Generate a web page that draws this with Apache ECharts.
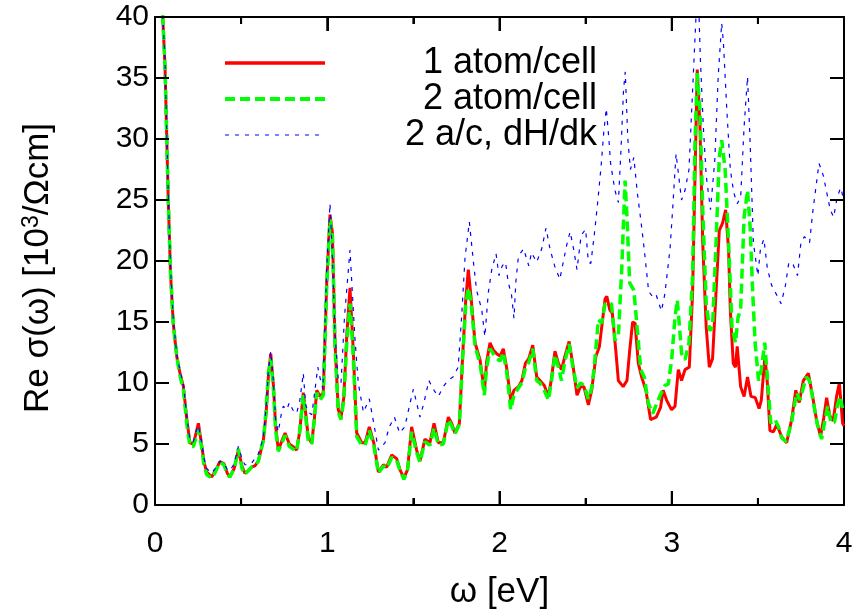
<!DOCTYPE html>
<html><head><meta charset="utf-8">
<script src="https://cdn.jsdelivr.net/npm/echarts@6/dist/echarts.min.js"></script>
<style>html,body{margin:0;padding:0;background:#fff}#c{width:859px;height:616px}</style>
</head><body><div id="c"></div>
<script>
const xTicks = [0, 1, 2, 3, 4];
const xMinorTicks = [0.5, 1.5, 2.5, 3.5];
const yTicks = [0, 5, 10, 15, 20, 25, 30, 35, 40];
const seriesNames = ['1 atom/cell', '2 atom/cell', '2 a/c, dH/dk'];

const omegaRed = [0.03,0.045,0.058,0.077,0.09,0.106,0.126,0.145,0.165,0.185,0.203,0.223,0.24,0.252,0.27,0.285,0.30,0.329,0.35,0.377,0.40,0.42,0.435,0.46,0.484,0.505,0.522,0.54,0.56,0.58,0.60,0.629,0.645,0.658,0.672,0.688,0.70,0.716,0.735,0.755,0.78,0.80,0.822,0.84,0.861,0.875,0.89,0.91,0.925,0.939,0.958,0.977,0.997,1.016,1.03,1.045,1.064,1.08,1.096,1.113,1.132,1.151,1.171,1.20,1.22,1.244,1.27,1.297,1.326,1.345,1.374,1.403,1.422,1.445,1.466,1.49,1.519,1.538,1.567,1.596,1.62,1.645,1.674,1.703,1.722,1.741,1.767,1.786,1.804,1.819,1.835,1.858,1.887,1.912,1.925,1.945,1.964,1.984,2.003,2.022,2.041,2.065,2.084,2.11,2.13,2.15,2.17,2.193,2.216,2.235,2.26,2.284,2.30,2.322,2.342,2.36,2.38,2.404,2.425,2.45,2.47,2.49,2.516,2.535,2.56,2.58,2.613,2.623,2.64,2.655,2.675,2.69,2.718,2.74,2.756,2.773,2.787,2.806,2.825,2.85,2.877,2.91,2.935,2.95,2.97,2.999,3.019,3.038,3.057,3.077,3.102,3.121,3.135,3.148,3.164,3.18,3.2,3.218,3.237,3.257,3.276,3.295,3.313,3.33,3.34,3.357,3.37,3.38,3.4,3.42,3.44,3.46,3.485,3.507,3.52,3.541,3.555,3.57,3.59,3.61,3.638,3.667,3.696,3.72,3.74,3.764,3.793,3.818,3.84,3.864,3.883,3.899,3.918,3.937,3.957,3.973,3.992,4.0];
const sigmaRed = [50,40,36,25,19,14.9,12.2,10.8,9.7,7,5.1,5.0,6.0,6.7,5.0,3.5,2.7,2.3,2.8,3.55,3.4,2.6,2.3,3.0,4.5,3.2,2.6,2.8,3.1,3.2,3.6,5.3,7.5,10.5,12.4,9.7,6.5,4.5,5.2,5.9,5.0,4.8,4.5,6.0,9.2,7.5,5.5,5.1,7.0,9.4,8.9,9.2,18.2,23.8,22.3,13.3,7.8,7.2,8.8,13.8,17.8,12.7,5.9,5.1,5.1,6.4,5.1,2.7,3.3,3.1,4.1,3.8,2.9,2.2,2.9,6.4,4.5,3.6,5.4,5.1,6.7,5.1,5.1,7.2,6.7,5.9,6.7,12.2,16.8,19.3,17.0,13.3,11.9,9.3,11.7,13.3,12.7,12.4,12.2,12.8,11.3,8.6,9.4,9.7,10.2,11.6,12.0,13.1,10.5,10.2,9.8,8.9,10.2,12.6,11.6,11.1,12.2,13.4,11.6,9.0,9.7,9.7,8.2,9.4,12.2,13.0,16.9,17.1,16.0,15.7,12.7,10.2,9.7,10.2,12.7,15.0,14.9,11.6,10.5,9.4,7.0,7.2,8.0,9.4,8.6,7.8,8.1,11.1,10.2,11.1,11.3,17.4,26.9,35.7,31,21.5,14.6,11.3,12,17.4,22.5,23.1,24.2,20.9,16,11.6,11.3,13.0,9.7,8.9,10.5,8.9,8.8,7.9,8.6,12.2,10,6.1,6.0,6.6,5.6,5.1,7.0,9.4,8.4,10.2,10.8,8.9,7.0,5.6,7.2,8.8,7.3,6.9,8.9,10.0,6.7,6.5];

const omegaGreen = [0.03,0.045,0.058,0.077,0.09,0.106,0.126,0.145,0.165,0.185,0.203,0.223,0.24,0.252,0.27,0.285,0.30,0.329,0.35,0.377,0.40,0.42,0.435,0.46,0.484,0.505,0.522,0.54,0.56,0.58,0.60,0.629,0.645,0.658,0.672,0.688,0.70,0.716,0.735,0.755,0.78,0.80,0.822,0.84,0.861,0.875,0.89,0.91,0.925,0.939,0.958,0.977,0.997,1.016,1.03,1.045,1.064,1.08,1.096,1.113,1.132,1.151,1.171,1.20,1.22,1.244,1.27,1.297,1.326,1.345,1.374,1.403,1.422,1.445,1.466,1.49,1.519,1.538,1.567,1.596,1.62,1.645,1.674,1.703,1.722,1.741,1.767,1.786,1.804,1.819,1.835,1.858,1.887,1.912,1.925,1.945,1.964,1.984,2.003,2.022,2.041,2.065,2.084,2.11,2.13,2.15,2.17,2.193,2.216,2.235,2.26,2.284,2.30,2.322,2.342,2.36,2.38,2.404,2.425,2.45,2.47,2.49,2.516,2.535,2.55,2.574,2.593,2.613,2.65,2.67,2.69,2.71,2.729,2.74,2.756,2.78,2.80,2.82,2.84,2.865,2.89,2.93,2.96,2.98,3.0,3.019,3.032,3.045,3.057,3.077,3.1,3.121,3.135,3.148,3.164,3.18,3.2,3.22,3.237,3.257,3.276,3.29,3.31,3.33,3.35,3.37,3.385,3.4,3.42,3.44,3.455,3.47,3.484,3.504,3.52,3.54,3.555,3.575,3.6,3.62,3.638,3.665,3.696,3.725,3.745,3.78,3.80,3.82,3.845,3.87,3.89,3.905,3.925,3.945,3.962,3.977,3.99,4.0];
const sigmaGreen = [50,40,36,25,19,14.9,12.2,10.6,9.4,6.6,4.8,4.8,5.6,6.2,4.8,3.2,2.5,2.2,2.7,3.5,3.3,2.5,2.3,3.0,4.6,3.0,2.5,2.8,3.1,3.2,3.6,5.3,7.8,10.8,12.0,9.4,6.2,4.4,5.0,5.7,4.8,4.6,4.4,6.0,9.0,7.2,5.2,5.0,7.0,9.2,8.6,9.0,18.0,23.4,22.0,13.0,7.6,7.0,8.6,13.2,16.5,12.2,5.6,4.9,4.9,6.1,4.9,2.6,3.2,3.0,3.9,3.7,2.8,2.1,2.8,6.0,4.3,3.5,5.2,4.9,6.3,4.9,5.0,7.0,6.5,5.8,6.6,12.0,16.4,17.8,16.6,13.0,11.6,9.0,11.2,12.8,12.4,12.0,11.8,12.5,11.0,7.8,9.0,9.6,10.0,11.2,11.7,12.8,10.2,10.0,9.4,8.6,10.0,12.3,11.3,10.2,11.8,13.2,11.4,9.6,10.0,9.8,8.7,9.6,11.3,15.2,14.9,16.5,16.5,13.5,13.8,19.5,26.6,23.6,18.2,17.6,14.4,11.1,10.5,8.3,7.5,8.9,9.8,9.9,12,15.4,16.8,14.6,12.4,11.9,13.3,18.8,29.7,35.4,32.3,24.2,16.5,14.3,14.6,21.5,28.5,29.9,27.5,21.5,14.6,13.3,15.4,16,23.6,25.8,22.8,17.4,13.3,10.2,11.1,13.3,10.5,6.7,7.0,6.4,5.5,5.2,6.8,9.2,8.6,10.5,10.2,8.6,6.6,5.4,7.0,8.1,6.7,6.8,8.2,8.9,8.0,8.4];

const omegaBlue = [0.03,0.045,0.058,0.077,0.09,0.106,0.126,0.145,0.165,0.185,0.203,0.223,0.24,0.252,0.27,0.285,0.30,0.329,0.35,0.377,0.40,0.42,0.435,0.46,0.484,0.505,0.522,0.54,0.56,0.58,0.60,0.629,0.645,0.658,0.672,0.688,0.70,0.716,0.735,0.745,0.765,0.78,0.80,0.822,0.84,0.861,0.875,0.89,0.91,0.925,0.945,0.96,0.975,0.997,1.016,1.03,1.045,1.064,1.08,1.10,1.132,1.16,1.18,1.21,1.244,1.27,1.297,1.335,1.36,1.39,1.42,1.45,1.48,1.50,1.52,1.538,1.56,1.59,1.62,1.645,1.674,1.70,1.73,1.76,1.78,1.80,1.825,1.848,1.867,1.897,1.915,1.935,1.955,1.98,1.997,2.016,2.035,2.05,2.07,2.084,2.095,2.11,2.14,2.17,2.186,2.216,2.245,2.27,2.293,2.32,2.35,2.39,2.41,2.43,2.45,2.474,2.50,2.516,2.53,2.55,2.57,2.59,2.605,2.62,2.635,2.645,2.67,2.69,2.705,2.72,2.73,2.745,2.76,2.78,2.80,2.82,2.84,2.866,2.893,2.91,2.94,2.96,2.99,3.005,3.025,3.04,3.057,3.077,3.1,3.125,3.14,3.152,3.166,3.183,3.2,3.225,3.25,3.27,3.29,3.30,3.32,3.34,3.36,3.38,3.40,3.42,3.44,3.455,3.474,3.50,3.515,3.535,3.555,3.58,3.61,3.635,3.66,3.68,3.705,3.73,3.75,3.77,3.80,3.82,3.855,3.88,3.90,3.92,3.94,3.96,3.98,4.0];
const sigmaBlue = [50,40,36.5,25.5,19.5,15.2,12.4,11.0,9.9,7.2,5.3,5.2,6.1,6.5,5.2,3.8,3.0,2.6,3.0,3.6,3.4,2.9,2.8,3.4,4.8,3.8,3.3,3.3,3.4,3.8,4.2,5.5,8.0,11.0,12.6,10.0,7.0,6.0,7.6,8.1,7.8,8.4,7.8,7.5,8.5,10.8,8.2,7.6,7.4,9.0,11.3,10.3,9.5,19.5,24.7,20.3,14.0,10.2,10.0,15.4,20.9,13.8,10.0,7.6,8.7,6.7,4.5,5.1,6.4,7.2,5.9,6.4,8.3,9.5,8.3,7.2,8.3,10.2,9.4,8.9,9.7,10.2,10.5,11.3,15.4,20.3,23.2,20.0,17.6,16.0,13.8,17.4,19.3,20.6,18.8,19.6,19.9,18.3,17.2,15.3,18.3,20.4,21.0,19.6,20.7,19.9,21.0,22.7,21.0,19.6,18.5,21.3,22.4,21.0,19.3,22.1,22.6,19.9,19.8,22.1,24.8,27.8,30.5,32.5,30.0,28.0,25.8,24.8,29.0,34.0,35.5,30.0,27.5,28.5,25.6,23.4,21.0,17.5,17.0,17.2,15.9,17.3,21.0,24.2,28.8,27.0,25.0,25.8,27.5,35.2,39.8,43,36.6,31.1,27.0,24.2,28.3,35.2,39.5,37.9,32.3,27.5,25.6,24.7,25.2,31.0,35.1,29.7,21.5,18.8,21.0,21.8,19.4,18.0,17.2,16.5,18.0,19.9,19.7,18.8,21.5,22.0,21.5,24.2,28.0,27.0,25.6,24.2,23.6,25.2,26.0,25.0];

const zip = (xs, ys) => xs.map((x, i) => [x, ys[i]]);
const FONT = "'Liberation Sans', Arial, sans-serif";
const BIG = 35;
const X_MIN = xTicks[0], X_MAX = xTicks[xTicks.length - 1];
const Y_MIN = yTicks[0], Y_MAX = yTicks[yTicks.length - 1];

const chart = echarts.init(document.getElementById('c'), null, {renderer: 'canvas'});
const frameLine = {show: true, onZero: false, lineStyle: {color: '#000', width: 2}};
const noSplit = {show: false};
const noLabel = {show: false};
const tickStyle = {color: '#000', width: 2};
const majorTick = {show: true, inside: true, length: 14, lineStyle: tickStyle};
const minorTick = {show: true, splitNumber: 2, length: 7, lineStyle: tickStyle};

// inward tick marks drawn at tick values through the axes' own coordinate mapping
function tickMarks(points, dx, dy) {
  return {
    type: 'custom', data: points, silent: true, clip: false, z: 6,
    encode: {x: 0, y: 1},
    renderItem: function (params, api) {
      const p = api.coord([api.value(0), api.value(1)]);
      return {type: 'line', shape: {x1: p[0], y1: p[1], x2: p[0] + dx, y2: p[1] + dy},
              style: {stroke: '#000', lineWidth: 2}};
    }
  };
}

chart.setOption({
  animation: false,
  backgroundColor: '#fff',
  grid: {left: 155, right: 15, top: 17, bottom: 111, containLabel: false},
  legend: {
    orient: 'vertical', left: 218, top: 40,
    itemWidth: 100, itemHeight: 20, itemGap: 0,
    itemStyle: {opacity: 0},
    data: [
      {name: seriesNames[0], lineStyle: {width: 3.5}},
      {name: seriesNames[1], lineStyle: {width: 4}},
      {name: seriesNames[2], lineStyle: {width: 1.2}}
    ],
    selectedMode: false,
    formatter: n => '{a|' + n + '}',
    textStyle: {fontFamily: FONT, fontSize: 36, color: '#000',
      rich: {a: {fontFamily: FONT, fontSize: 36, color: '#000', width: 267, align: 'right', lineHeight: 34}}}
  },
  xAxis: [{
    type: 'value', position: 'bottom', min: X_MIN, max: X_MAX, interval: 1,
    name: 'ω [eV]', nameLocation: 'middle', nameGap: 70,
    nameTextStyle: {fontFamily: FONT, fontSize: BIG, color: '#000'},
    axisLine: frameLine, axisTick: majorTick, minorTick: minorTick,
    axisLabel: {fontFamily: FONT, fontSize: 30, color: '#000', margin: 24},
    splitLine: noSplit
  }, {
    type: 'value', position: 'top', min: X_MIN, max: X_MAX, interval: 1,
    axisLine: frameLine, axisTick: majorTick, minorTick: minorTick, axisLabel: noLabel, splitLine: noSplit
  }],
  yAxis: [{
    type: 'value', position: 'left', min: Y_MIN, max: Y_MAX, interval: 5,
    name: '{n|Re σ(ω) [10}{s|3}{n|/Ωcm]}{p|}', nameLocation: 'middle', nameGap: 98, nameRotate: 90,
    nameTextStyle: {fontFamily: FONT, fontSize: BIG, color: '#000',
      rich: {n: {fontFamily: FONT, fontSize: BIG, color: '#000'},
             s: {fontFamily: FONT, fontSize: 23, color: '#000', verticalAlign: 'top', padding: [0, 0, 14, 0]},
             p: {width: 14}}},
    axisLine: frameLine, axisTick: majorTick,
    axisLabel: {fontFamily: FONT, fontSize: 30, color: '#000', margin: 6},
    splitLine: noSplit
  }, {
    type: 'value', position: 'right', min: Y_MIN, max: Y_MAX, interval: 5,
    axisLine: frameLine, axisTick: majorTick, axisLabel: noLabel, splitLine: noSplit
  }],
  series: [{
    name: seriesNames[0], type: 'line', data: zip(omegaRed, sigmaRed), symbol: 'none', clip: true,
    lineStyle: {color: '#ff0000', width: 3}, itemStyle: {color: '#ff0000'}, z: 2
  }, {
    name: seriesNames[1], type: 'line', data: zip(omegaGreen, sigmaGreen), symbol: 'none', clip: true,
    lineStyle: {color: '#00ff00', width: 3.5, type: [10, 5]}, itemStyle: {color: '#00ff00'}, z: 3
  }, {
    name: seriesNames[2], type: 'line', data: zip(omegaBlue, sigmaBlue), symbol: 'none', clip: true,
    lineStyle: {color: '#0000ff', width: 1.2, type: [4, 6]}, itemStyle: {color: '#0000ff'}, z: 4
  },
    tickMarks(xTicks.map(v => [v, Y_MIN]), 0, -14),
    tickMarks(xTicks.map(v => [v, Y_MAX]), 0, 14),
    tickMarks(xMinorTicks.map(v => [v, Y_MIN]), 0, -7),
    tickMarks(xMinorTicks.map(v => [v, Y_MAX]), 0, 7),
    tickMarks(yTicks.map(v => [X_MIN, v]), 14, 0),
    tickMarks(yTicks.map(v => [X_MAX, v]), -14, 0)
  ]
});
</script></body></html>
